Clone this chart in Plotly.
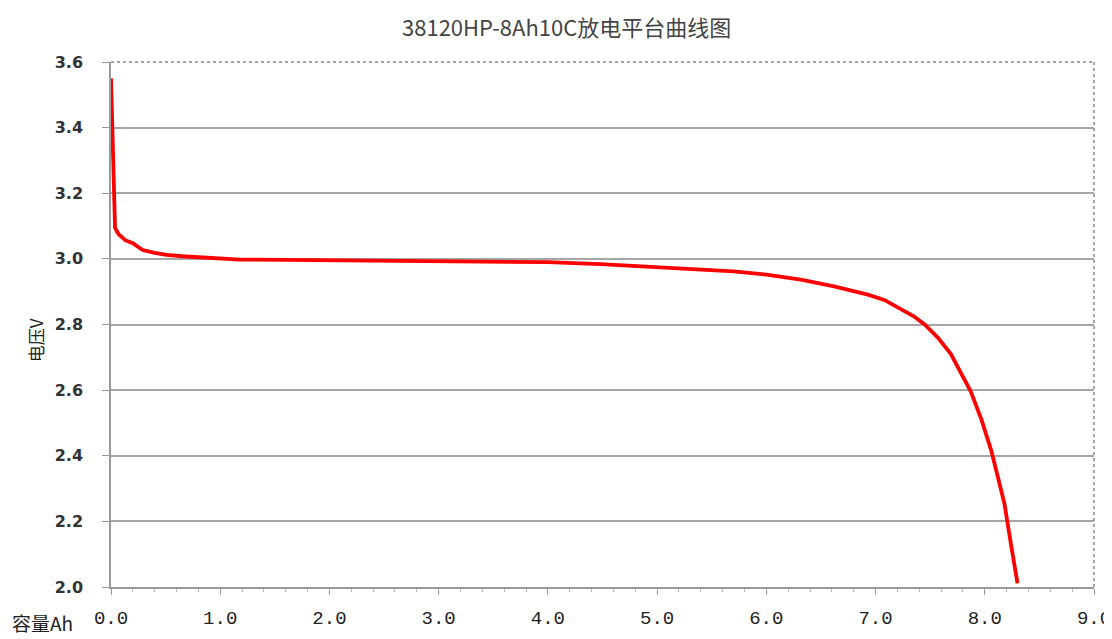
import plotly.graph_objects as go

capacity_ah = [0.0, 0.01, 0.02, 0.037, 0.07, 0.13, 0.2, 0.29, 0.4, 0.51, 0.65, 0.82, 1.0, 1.18,
               1.6, 2.0, 2.5, 3.0, 3.5, 4.0, 4.48, 5.09, 5.7, 6.0, 6.315, 6.62, 6.93, 7.08, 7.23,
               7.35, 7.45, 7.57, 7.69, 7.78, 7.87, 7.97, 8.06, 8.12, 8.18, 8.24, 8.30]
voltage_v = [3.55, 3.43, 3.30, 3.094, 3.075, 3.057, 3.048, 3.027, 3.018, 3.012, 3.008, 3.005, 3.002, 2.998,
             2.997, 2.996, 2.996, 2.995, 2.993, 2.99, 2.984, 2.974, 2.962, 2.952, 2.937, 2.916, 2.891, 2.875, 2.846,
             2.825, 2.80, 2.76, 2.71, 2.655, 2.597, 2.51, 2.415, 2.335, 2.254, 2.13, 2.011]

title_text = "38120HP-8Ah10C放电平台曲线图"
y_title = "电压V"
x_title = "容量Ah"
x_ticks = [0, 1, 2, 3, 4, 5, 6, 7, 8, 9]
y_ticks = [2.0, 2.2, 2.4, 2.6, 2.8, 3.0, 3.2, 3.4, 3.6]

fig = go.Figure()
fig.add_trace(go.Scatter(x=capacity_ah, y=voltage_v, mode="lines",
                         line=dict(color="#ff0000", width=3.8), showlegend=False))

fig.update_layout(
    width=1104, height=631,
    margin=dict(l=103, r=18, t=54, b=52, pad=0),
    paper_bgcolor="white", plot_bgcolor="white",
    title=dict(text=title_text, xref="container", yref="container",
               x=0.506, xanchor="center", y=0.968, yanchor="middle",
               font=dict(family="Noto Sans CJK SC", size=22, color="#444")),
    xaxis=dict(range=[0, 9], tickvals=x_ticks, ticktext=[f"{v:.1f}" for v in x_ticks],
               automargin=False,
               showgrid=False, zeroline=False, showline=True, linecolor="#999", linewidth=1.5,
               ticks="outside", ticklen=6, tickcolor="#999",
               minor=dict(dtick=0.2, ticks="outside", ticklen=3, tickcolor="#bbb"),
               tickfont=dict(family="Liberation Mono", size=19, color="#222"),
               ticklabelstandoff=6),
    yaxis=dict(range=[2.0, 3.6], tickvals=y_ticks, ticktext=[f"{v:.1f}" for v in y_ticks],
               automargin=False,
               showgrid=True, gridcolor="#a6a6a6", gridwidth=2, zeroline=False,
               showline=True, linecolor="#999", linewidth=1.5,
               ticks="outside", ticklen=7, tickcolor="#999",
               tickfont=dict(family="DejaVu Sans", size=16, color="#333", weight="bold"),
               ticklabelstandoff=16),
    shapes=[
        dict(type="line", xref="paper", yref="paper", x0=0, x1=1, y0=1, y1=1,
             line=dict(color="#888", width=1.5, dash="dot")),
        dict(type="line", xref="paper", yref="paper", x0=1, x1=1, y0=0, y1=1,
             line=dict(color="#888", width=1.5, dash="dot")),
    ],
    annotations=[
        dict(text=x_title, xref="paper", yref="paper", x=-0.1027, y=-0.068,
             xanchor="left", yanchor="middle", showarrow=False,
             font=dict(family="Noto Sans CJK SC", size=19, color="#222")),
        dict(text=y_title, xref="paper", yref="paper", x=-0.0773, y=0.47,
             xanchor="center", yanchor="middle", textangle=-90, showarrow=False,
             font=dict(family="Noto Sans CJK SC", size=17, color="#222")),
    ],
)

fig.write_html("out.html")
